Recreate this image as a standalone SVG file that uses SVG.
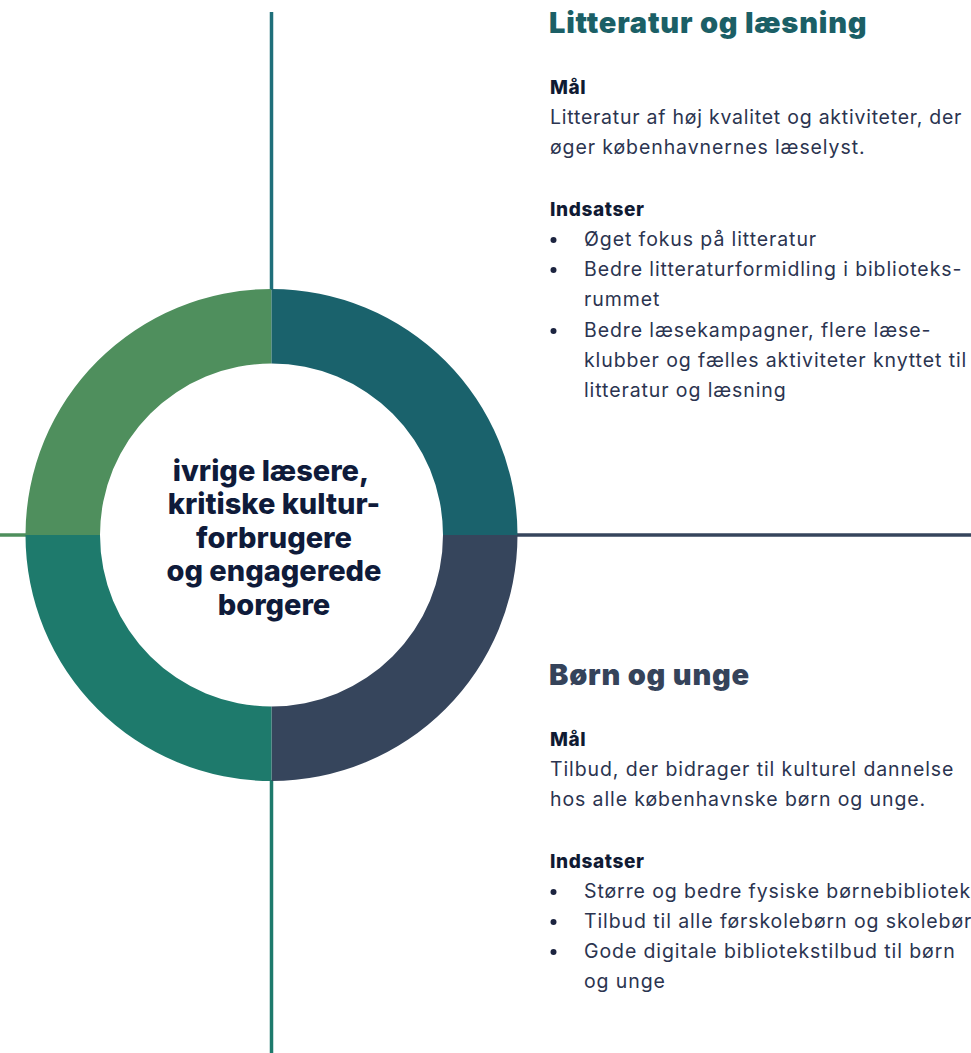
<svg xmlns="http://www.w3.org/2000/svg" width="971" height="1053" viewBox="0 0 971 1053">
<style>
.title{font-family:Inter,"Noto Sans","DejaVu Sans",sans-serif;font-weight:900;font-size:29px;letter-spacing:0.8px}
.head{font-family:Inter,"Noto Sans","DejaVu Sans",sans-serif;font-weight:800;font-size:19px;letter-spacing:0.6px;fill:#101a33}
.body{font-family:Inter,"Noto Sans","DejaVu Sans",sans-serif;font-weight:400;font-size:19.5px;letter-spacing:0.9px;fill:#2b3450}
.center{font-family:Inter,"Noto Sans","DejaVu Sans",sans-serif;font-weight:800;font-size:29px;fill:#0f1b3a;text-anchor:middle}
.dot{fill:#1c2440}
.ln{fill:none;stroke-width:3.5;stroke-linecap:butt}
</style>
<rect width="971" height="1053" fill="#ffffff"/>
<g id="connectors">
<line class="ln" x1="271.5" y1="12" x2="271.5" y2="290" stroke="#1f6f7a"/>
<line class="ln" x1="0" y1="535" x2="27" y2="535" stroke="#4e8f5c" stroke-width="3"/>
<line class="ln" x1="516" y1="535" x2="971" y2="535" stroke="#36455c" stroke-width="3"/>
<line class="ln" x1="271.5" y1="780" x2="271.5" y2="1053" stroke="#1e7a6c"/>
</g>
<g id="center">
<path d="M25.5 535 A246 246 0 0 1 271.5 289 L271.5 363.5 A171.5 171.5 0 0 0 100 535 Z" fill="#4f8f5d"/>
<path d="M271.5 289 A246 246 0 0 1 517.5 535 L443 535 A171.5 171.5 0 0 0 271.5 363.5 Z" fill="#1a626c"/>
<path d="M517.5 535 A246 246 0 0 1 271.5 781 L271.5 706.5 A171.5 171.5 0 0 0 443 535 Z" fill="#36455c"/>
<path d="M271.5 781 A246 246 0 0 1 25.5 535 L100 535 A171.5 171.5 0 0 0 271.5 706.5 Z" fill="#1e7a6c"/>
<text class="center" x="271" y="481">ivrige læsere,</text>
<text class="center" x="274" y="514">kritiske kultur-</text>
<text class="center" x="274" y="548">forbrugere</text>
<text class="center" x="274" y="581">og engagerede</text>
<text class="center" x="274" y="615">borgere</text>
</g>
<g id="litteratur">
<text class="title" x="549" y="33" fill="#1b5f66">Litteratur og læsning</text>
<text class="head" x="550" y="94">Mål</text>
<text class="body" x="550" y="124" style="letter-spacing:0.76px">Litteratur af høj kvalitet og aktiviteter, der</text>
<text class="body" x="550" y="154">øger københavnernes læselyst.</text>
<text class="head" x="550" y="216">Indsatser</text>
<circle class="dot" cx="553.5" cy="240" r="3"/>
<text class="body" x="584" y="246">Øget fokus på litteratur</text>
<circle class="dot" cx="553.5" cy="270" r="3"/>
<text class="body" x="584" y="276">Bedre litteraturformidling i biblioteks-</text>
<text class="body" x="584" y="306">rummet</text>
<circle class="dot" cx="553.5" cy="331" r="3"/>
<text class="body" x="584" y="337">Bedre læsekampagner, flere læse-</text>
<text class="body" x="584" y="367">klubber og fælles aktiviteter knyttet til</text>
<text class="body" x="584" y="397">litteratur og læsning</text>
</g>
<g id="born">
<text class="title" x="549" y="685" fill="#35435a">Børn og unge</text>
<text class="head" x="550" y="746">Mål</text>
<text class="body" x="550" y="776">Tilbud, der bidrager til kulturel dannelse</text>
<text class="body" x="550" y="806">hos alle københavnske børn og unge.</text>
<text class="head" x="550" y="868">Indsatser</text>
<circle class="dot" cx="553.5" cy="892" r="3"/>
<text class="body" x="584" y="898">Større og bedre fysiske børnebibliotek</text>
<circle class="dot" cx="553.5" cy="922" r="3"/>
<text class="body" x="584" y="928">Tilbud til alle førskolebørn og skolebør</text>
<circle class="dot" cx="553.5" cy="952" r="3"/>
<text class="body" x="584" y="958">Gode digitale bibliotekstilbud til børn</text>
<text class="body" x="584" y="988">og unge</text>
</g>
</svg>
